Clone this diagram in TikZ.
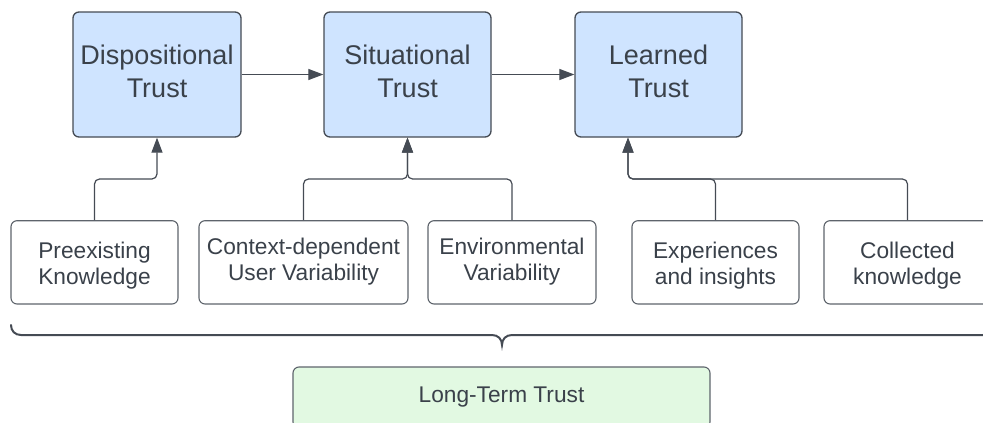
\documentclass[tikz,border=0pt]{standalone}
\usepackage{fontspec}
\setmainfont{Liberation Sans}
\usetikzlibrary{arrows.meta}

\definecolor{inkdark}{HTML}{3A414A}
\definecolor{edgedark}{HTML}{454B54}
\definecolor{edgegray}{HTML}{5E646C}
\definecolor{trustblue}{HTML}{CFE4FF}
\definecolor{trustgreen}{HTML}{E2F9E2}

% box of the given width and height, text top-aligned with its first
% baseline at the given distance below the top edge
\newcommand\boxlines[4]{\parbox[c][#2][t]{#1}{\centering\rule{0pt}{#3}#4}}

\tikzset{
  stagebox/.style={draw=edgedark, line width=1.3pt, fill=trustblue,
    rounded corners=6pt, inner sep=0pt, text=inkdark,
    font=\fontsize{27}{32.5}\selectfont},
  factorbox/.style={draw=edgegray, line width=1.1pt, fill=white,
    rounded corners=6pt, inner sep=0pt, text=inkdark,
    font=\fontsize{22.7}{26}\selectfont},
  resultbox/.style={draw=edgegray, line width=1.1pt, fill=trustgreen,
    rounded corners=6pt, inner sep=0pt, minimum width=417pt, minimum height=61pt,
    align=center, text=inkdark, font=\fontsize{22.7}{26}\selectfont,
    text height=16pt, text depth=6.4pt},
  flowarrow/.style={draw=edgedark, line width=1.2pt,
    -{Triangle[length=15pt,width=11pt]}},
  feedline/.style={flowarrow, rounded corners=5pt},
  bracestroke/.style={draw=edgedark, line width=2pt, line cap=round}
}

\begin{document}
\begin{tikzpicture}[x=1pt, y=-1pt]
  \useasboundingbox (0,0) rectangle (983,423);
  \clip (0,0) rectangle (983,423);

  % trust stages
  \node[stagebox] (disp) at (157,74.5) {\boxlines{168pt}{125pt}{52.5pt}{Dispositional\\Trust}};
  \node[stagebox] (sit) at (407.5,74.5) {\boxlines{167pt}{125pt}{52.5pt}{Situational\\Trust}};
  \node[stagebox] (lrn) at (658.5,74.5) {\boxlines{167pt}{125pt}{52.5pt}{Learned\\Trust}};

  \draw[flowarrow] (disp.east) -- (sit.west);
  \draw[flowarrow] (sit.east) -- (lrn.west);

  % influencing factors
  \node[factorbox] (pre) at (94.5,262.35) {\boxlines{167pt}{83.3pt}{37.3pt}{Preexisting\\Knowledge}};
  \node[factorbox] (ctx) at (303.5,262.35) {\boxlines{209pt}{83.3pt}{33.3pt}{Context-dependent\\User Variability}};
  \node[factorbox] (env) at (512,262.35) {\boxlines{168pt}{83.3pt}{33.3pt}{Environmental\\Variability}};
  \node[factorbox] (exp) at (715.5,262.35) {\boxlines{167pt}{83.3pt}{37.3pt}{Experiences\\and insights}};
  \node[factorbox] (col) at (907.5,262.35) {\boxlines{167pt}{83.3pt}{37.3pt}{Collected\\knowledge}};

  % feed lines into the stages
  \coordinate (bus) at (0,179);
  \coordinate (lrnin) at ([xshift=-30.5pt]lrn.south);

  \draw[feedline] (pre.north) |- (bus -| disp.south) -- (disp.south);
  \draw[feedline] (ctx.north) |- (bus -| sit.south) -- (sit.south);
  \draw[feedline] (env.north) |- (bus -| sit.south) -- (sit.south);
  \draw[feedline] (exp.north) |- (bus -| lrnin) -- (lrnin);
  \draw[feedline] (col.north) |- (bus -| lrnin) -- (lrnin);

  % brace grouping all factors
  \coordinate (bl) at (11,325);
  \coordinate (tip) at (502,345);
  \coordinate (br) at (993,325);
  \draw[bracestroke] (bl) .. controls (11,331) and (15,335) .. (21,335)
    -- (492,335) .. controls (498,335) and (502,339) .. (tip)
    .. controls (502,339) and (506,335) .. (512,335)
    -- (983,335) .. controls (989,335) and (993,331) .. (br);

  % overall result
  \node[resultbox] (lt) at (501.5,397.5) {Long-Term Trust};
\end{tikzpicture}
\end{document}
